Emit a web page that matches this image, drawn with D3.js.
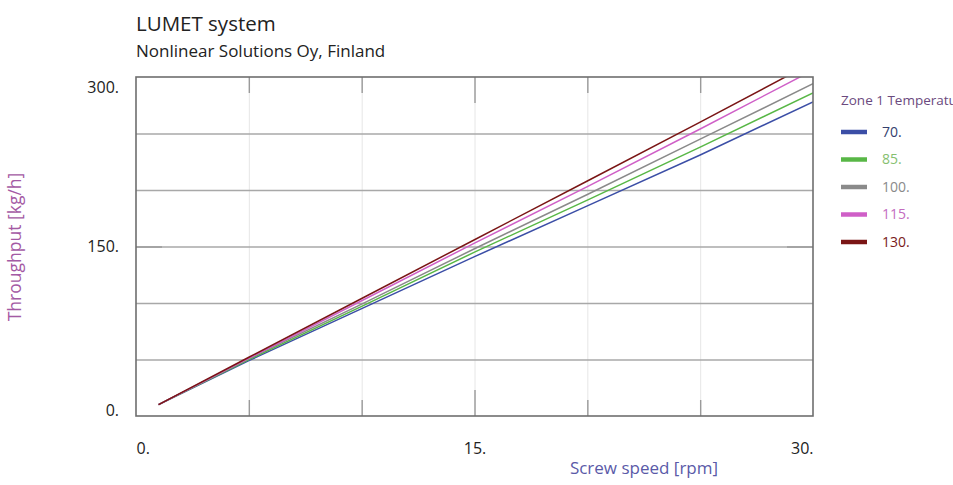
<!DOCTYPE html>
<html>
<head>
<meta charset="utf-8">
<script src="https://cdn.jsdelivr.net/npm/d3@7"></script>
<style>
  html, body { margin: 0; padding: 0; background: #fff; }
  svg { display: block; font-family: "Open Sans", "Noto Sans", sans-serif; }
</style>
</head>
<body>
<svg id="chart" width="953" height="485"></svg>
<script>
// Screw speed [rpm] sample points
const speeds = [1, 5, 10, 15, 20, 25, 30];
// Zone 1 temperature levels
const temperatures = ["70.", "85.", "100.", "115.", "130."];
// Throughput [kg/h] for each temperature level
const throughput70  = [10, 49, 95, 141, 186, 231, 278];
const throughput85  = [10, 50, 97, 145, 191, 238, 286];
const throughput100 = [10, 51, 99, 148, 196, 245, 294];
const throughput115 = [10, 51, 102, 153, 203, 254, 306];
const throughput130 = [10, 52, 104, 156, 208, 260, 313];
const lineColors  = ["#3b4ea6", "#58b746", "#8a8a8a", "#cf5fc7", "#7a1515"];
const labelColors = ["#34406e", "#86c070", "#8a8a8a", "#c46cbf", "#7a1a1a"];
const xTickLabels = [0, 15, 30];
const yTickLabels = [0, 150, 300];

const series = [throughput70, throughput85, throughput100, throughput115, throughput130];

const svg = d3.select("#chart");
const plotLeft = 136, plotRight = 813, plotTop = 77, plotBottom = 416;

const x = d3.scaleLinear().domain([0, 30]).range([plotLeft, plotRight]);
const y = d3.scaleLinear().domain([0, 300]).range([plotBottom, plotTop]);

// Titles
svg.append("text").attr("x", 136).attr("y", 31)
  .attr("font-size", 20.5).attr("font-weight", 500).attr("fill", "#222").text("LUMET system");
svg.append("text").attr("x", 136).attr("y", 57)
  .attr("font-size", 17).attr("fill", "#222").text("Nonlinear Solutions Oy, Finland");

// Vertical grid (faint)
svg.append("g").attr("transform", `translate(0,${plotBottom})`)
  .call(d3.axisBottom(x).tickValues([5, 10, 15, 20, 25]).tickSize(-(plotBottom - plotTop)).tickFormat(""))
  .call(g => g.select(".domain").remove())
  .call(g => g.selectAll("line").attr("stroke", "#e6e6e6").attr("stroke-width", 1));

// Horizontal grid
svg.append("g").attr("transform", `translate(${plotLeft},0)`)
  .call(d3.axisLeft(y).tickValues([50, 100, 150, 200, 250]).tickSize(-(plotRight - plotLeft)).tickFormat(""))
  .call(g => g.select(".domain").remove())
  .call(g => g.selectAll("line").attr("stroke", "#a8a8a8").attr("stroke-width", 1.3));

// Tick marks on all four sides
function tickStyle(g) {
  g.select(".domain").remove();
  g.selectAll("line").attr("stroke", "#9a9a9a").attr("stroke-width", 1.4);
}
const minorX = [5, 10, 20, 25], majorX = [15];
svg.append("g").attr("transform", `translate(0,${plotBottom})`)
  .call(d3.axisTop(x).tickValues(minorX).tickSize(16).tickFormat("")).call(tickStyle);
svg.append("g").attr("transform", `translate(0,${plotBottom})`)
  .call(d3.axisTop(x).tickValues(majorX).tickSize(26).tickFormat("")).call(tickStyle);
svg.append("g").attr("transform", `translate(0,${plotTop})`)
  .call(d3.axisBottom(x).tickValues(minorX).tickSize(16).tickFormat("")).call(tickStyle);
svg.append("g").attr("transform", `translate(0,${plotTop})`)
  .call(d3.axisBottom(x).tickValues(majorX).tickSize(26).tickFormat("")).call(tickStyle);
svg.append("g").attr("transform", `translate(${plotLeft},0)`)
  .call(d3.axisRight(y).tickValues([150]).tickSize(26).tickFormat("")).call(tickStyle);
svg.append("g").attr("transform", `translate(${plotRight},0)`)
  .call(d3.axisLeft(y).tickValues([150]).tickSize(26).tickFormat("")).call(tickStyle);

// Series lines, clipped to the plot frame
svg.append("clipPath").attr("id", "plot-clip")
  .append("rect").attr("x", plotLeft).attr("y", plotTop)
  .attr("width", plotRight - plotLeft).attr("height", plotBottom - plotTop);

const line = d3.line().x((d, i) => x(speeds[i])).y(d => y(d));
svg.append("g").attr("clip-path", "url(#plot-clip)")
  .selectAll("path").data(series).join("path")
  .attr("d", line)
  .attr("fill", "none")
  .attr("stroke", (d, i) => lineColors[i])
  .attr("stroke-width", 1.5);

// Frame
svg.append("rect").attr("x", plotLeft).attr("y", plotTop)
  .attr("width", plotRight - plotLeft).attr("height", plotBottom - plotTop)
  .attr("fill", "none").attr("stroke", "#6e6e6e").attr("stroke-width", 1.6);

// X tick labels
svg.append("g").attr("transform", `translate(0,${plotBottom})`)
  .call(d3.axisBottom(x).tickValues(xTickLabels).tickSize(0).tickPadding(27).tickFormat(d => d + "."))
  .call(g => g.select(".domain").remove())
  .call(g => g.selectAll("text")
    .attr("font-family", "'Open Sans', sans-serif").attr("font-size", 16).attr("fill", "#222")
    .attr("text-anchor", d => d === 0 ? "start" : d === 30 ? "end" : "middle"));

// Y tick labels
svg.append("g").attr("transform", `translate(${plotLeft},0)`)
  .call(d3.axisLeft(y).tickValues(yTickLabels).tickSize(0).tickPadding(17).tickFormat(d => d + "."))
  .call(g => g.select(".domain").remove())
  .call(g => g.selectAll("text")
    .attr("font-family", "'Open Sans', sans-serif").attr("font-size", 16).attr("fill", "#222")
    .attr("dy", d => d === 300 ? "0.95em" : d === 0 ? "-0.05em" : "0.32em"));

// Axis titles
svg.append("text").attr("x", 644).attr("y", 474).attr("text-anchor", "middle")
  .attr("font-size", 17).attr("fill", "#5a5aa8").text("Screw speed [rpm]");
svg.append("text").attr("transform", "translate(21,247) rotate(-90)").attr("text-anchor", "middle")
  .attr("font-size", 17.5).attr("fill", "#a45aa4").text("Throughput [kg/h]");

// Legend (its title runs past the right edge of the drawing)
const legend = svg.append("g");
legend.append("text").attr("x", 841).attr("y", 105)
  .attr("font-size", 13.5).attr("fill", "#6b4a7e").text("Zone 1 Temperature");
const items = legend.selectAll("g.item").data(temperatures).join("g")
  .attr("class", "item")
  .attr("transform", (d, i) => `translate(841,${132 + i * 27.5})`);
items.append("line").attr("x1", 0).attr("x2", 26).attr("y1", 0).attr("y2", 0)
  .attr("stroke", (d, i) => lineColors[i]).attr("stroke-width", 4.5);
items.append("text").attr("x", 41).attr("y", 0).attr("dy", "0.35em")
  .attr("font-size", 14).attr("fill", (d, i) => labelColors[i]).text(d => d);
</script>
</body>
</html>
